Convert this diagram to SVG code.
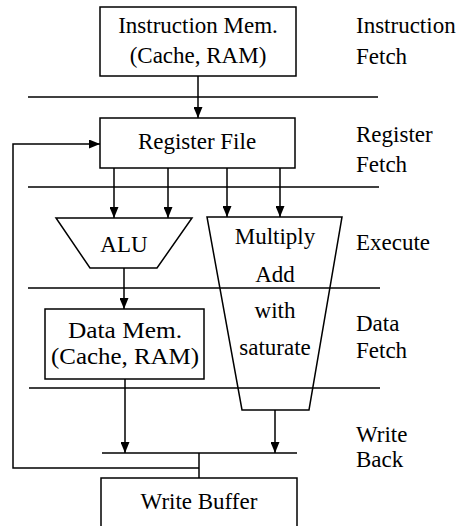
<svg xmlns="http://www.w3.org/2000/svg" width="458" height="526" viewBox="0 0 458 526" font-family="'Liberation Serif', 'Times New Roman', 'DejaVu Serif', serif" font-size="23">
<defs>
<marker id="ah" markerUnits="userSpaceOnUse" markerWidth="11" markerHeight="9" refX="11" refY="4.5" orient="auto">
<path d="M0,0 L11,4.5 L0,9 z" fill="#000"/>
</marker>
<style>
text{font-family:'Liberation Serif','Times New Roman','DejaVu Serif',serif;font-size:23px;fill:#000}
.c{text-anchor:middle}
.box{fill:#fff;stroke:#000;stroke-width:1.5}
.open{fill:none;stroke:#000;stroke-width:1.5}
.sep{stroke:#000;stroke-width:1.6;fill:none}
.wire{stroke:#000;stroke-width:1.5;fill:none}
.arr{stroke:#000;stroke-width:1.5;fill:none;marker-end:url(#ah)}
</style>
</defs>
<rect width="458" height="526" fill="#fff"/>
<g id="stages">
<line class="sep" x1="28" y1="97" x2="378" y2="97"/>
<line class="sep" x1="28" y1="187" x2="379" y2="187"/>
<line class="sep" x1="28" y1="288" x2="380" y2="288"/>
<line class="sep" x1="29" y1="388" x2="380" y2="388"/>
<line class="sep" x1="102" y1="453" x2="297" y2="453"/>
<text x="356" y="33">Instruction</text>
<text x="356" y="64">Fetch</text>
<text x="356" y="142">Register</text>
<text x="356" y="172">Fetch</text>
<text x="356" y="250">Execute</text>
<text x="356" y="331">Data</text>
<text x="356" y="358">Fetch</text>
<text x="356" y="442">Write</text>
<text x="356" y="467">Back</text>
</g>
<g id="imem">
<rect class="box" x="100" y="7" width="196" height="69"/>
<text class="c" x="198" y="33">Instruction Mem.</text>
<text class="c" x="198" y="63">(Cache, RAM)</text>
</g>
<g id="regfile">
<rect class="box" x="100" y="118" width="195" height="50"/>
<text class="c" x="197" y="149">Register File</text>
</g>
<g id="alu">
<polygon class="box" points="56,218 192,218 157,268 90,268"/>
<text class="c" x="124" y="252">ALU</text>
</g>
<g id="mac">
<polygon class="open" points="207,217 342,217 309,410 242,410"/>
<text class="c" x="275" y="244">Multiply</text>
<text class="c" x="275" y="282">Add</text>
<text class="c" x="275" y="318">with</text>
<text class="c" x="275" y="355">saturate</text>
</g>
<g id="dmem">
<rect class="box" x="45" y="309" width="159" height="70"/>
<text class="c" x="125" y="338" textLength="114" lengthAdjust="spacingAndGlyphs">Data Mem.</text>
<text class="c" x="125" y="364" textLength="148" lengthAdjust="spacingAndGlyphs">(Cache, RAM)</text>
</g>
<g id="wbuf">
<rect class="box" x="101" y="478" width="196" height="70"/>
<text class="c" x="199" y="509">Write Buffer</text>
</g>
<g id="connectors">
<line class="arr" x1="198" y1="76" x2="198" y2="118"/>
<line class="arr" x1="114" y1="168" x2="114" y2="218"/>
<line class="arr" x1="168" y1="168" x2="168" y2="218"/>
<line class="arr" x1="227" y1="168" x2="227" y2="217"/>
<line class="arr" x1="280" y1="168" x2="280" y2="217"/>
<line class="arr" x1="124" y1="268" x2="124" y2="309"/>
<line class="arr" x1="125" y1="379" x2="125" y2="453"/>
<line class="arr" x1="275" y1="410" x2="275" y2="453"/>
<line class="wire" x1="199" y1="453" x2="199" y2="478"/>
<polyline class="arr" points="199,468 13,468 13,144 100,144"/>
</g>
</svg>
